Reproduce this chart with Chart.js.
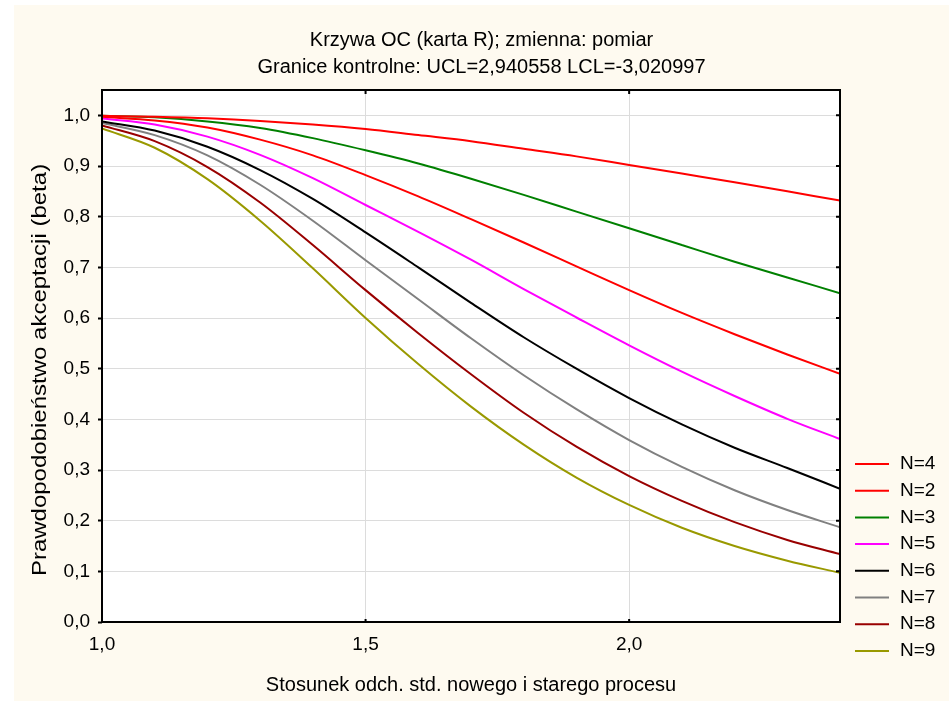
<!DOCTYPE html>
<html><head><meta charset="utf-8">
<script src="https://cdn.jsdelivr.net/npm/chart.js@4.4.0/dist/chart.umd.min.js"></script>
<style>html,body{margin:0;padding:0;background:#fff;} #wrap{width:949px;height:701px;position:relative;}</style>
</head><body><div id="wrap"><canvas id="c"></canvas></div>
<script>
const titleLines = ['Krzywa OC (karta R); zmienna: pomiar', 'Granice kontrolne: UCL=2,940558 LCL=-3,020997'];
const xTitle = 'Stosunek odch. std. nowego i starego procesu';
const yTitle = 'Prawdopodobieństwo akceptacji (beta)';
const xValues = [1.0,1.1,1.2,1.3,1.4,1.5,1.6,1.7,1.8,1.9,2.0,2.1,2.2,2.3,2.4];
const xTicks = [1.0, 1.5, 2.0];
const yTicks = [0.0,0.1,0.2,0.3,0.4,0.5,0.6,0.7,0.8,0.9,1.0];
const seriesLabels = ['N=4','N=2','N=3','N=5','N=6','N=7','N=8','N=9'];
const seriesColors = ['#ff0000','#ff0000','#008000','#ff00ff','#000000','#808080','#990000','#999900'];
const n4 = [0.997,0.990,0.976,0.952,0.921,0.882,0.840,0.795,0.749,0.702,0.655,0.610,0.568,0.528,0.490];
const n2 = [0.999,0.997,0.994,0.989,0.982,0.973,0.961,0.949,0.934,0.919,0.902,0.885,0.868,0.850,0.832];
const n3 = [0.999,0.996,0.988,0.975,0.955,0.931,0.905,0.875,0.843,0.810,0.777,0.744,0.711,0.680,0.649];
const n5 = [0.994,0.982,0.958,0.922,0.876,0.823,0.770,0.715,0.657,0.601,0.546,0.494,0.446,0.401,0.361];
const n6 = [0.988,0.970,0.938,0.892,0.835,0.769,0.700,0.630,0.562,0.500,0.442,0.390,0.344,0.304,0.263];
const n7 = [0.985,0.961,0.921,0.863,0.792,0.714,0.637,0.560,0.487,0.420,0.359,0.306,0.260,0.221,0.187];
const n8 = [0.980,0.949,0.898,0.828,0.744,0.655,0.570,0.489,0.413,0.346,0.288,0.239,0.197,0.162,0.134];
const n9 = [0.974,0.936,0.874,0.792,0.698,0.600,0.509,0.425,0.350,0.285,0.231,0.186,0.150,0.121,0.097];
const seriesValues = [n4,n2,n3,n5,n6,n7,n8,n9];

const FONT = "'Liberation Sans', Arial, sans-serif";
const fmt = v => Number(v).toFixed(1).replace('.', ',');

const datasets = seriesValues.map((vals, i) => ({
  label: seriesLabels[i],
  data: vals.map((y, k) => ({x: xValues[k], y})),
  borderColor: seriesColors[i],
  backgroundColor: seriesColors[i],
  borderWidth: 2,
  pointRadius: 0,
  fill: false,
  cubicInterpolationMode: 'monotone',
  yAxisID: 'y'
}));

const decor = {
  id: 'decor',
  beforeDraw(chart) {
    const {ctx, chartArea: a} = chart;
    ctx.save();
    ctx.fillStyle = '#fefaf0';
    ctx.fillRect(14, 5, chart.width - 14, chart.height - 5);
    ctx.fillStyle = '#ffffff';
    ctx.fillRect(a.left, a.top, a.right - a.left, a.bottom - a.top);
    ctx.restore();
  },
  afterDatasetsDraw(chart) {
    const {ctx, chartArea: a, scales} = chart;
    ctx.save();
    ctx.strokeStyle = '#000';
    ctx.lineWidth = 2;
    ctx.strokeRect(a.left, a.top, a.right - a.left, a.bottom - a.top);
    ctx.beginPath();
    yTicks.forEach(v => {
      const py = scales.y.getPixelForValue(v);
      ctx.moveTo(a.right, py); ctx.lineTo(a.right - 4, py);
    });
    xTicks.forEach(v => {
      const px = scales.x.getPixelForValue(v);
      ctx.moveTo(px, a.top); ctx.lineTo(px, a.top + 4);
      ctx.moveTo(px, a.bottom); ctx.lineTo(px, a.bottom - 3);
    });
    ctx.stroke();
    // y-axis title (drawn as text, slightly widened along its direction)
    ctx.save();
    ctx.translate(40, 370);
    ctx.rotate(-Math.PI / 2);
    ctx.scale(1.2, 1);
    ctx.font = '20px ' + FONT;
    ctx.fillStyle = '#000';
    ctx.textAlign = 'center';
    ctx.textBaseline = 'middle';
    ctx.fillText(yTitle, 0, 0);
    ctx.restore();
    // legend
    ctx.font = '19px ' + FONT;
    ctx.textBaseline = 'middle';
    ctx.textAlign = 'left';
    chart.data.datasets.forEach((ds, i) => {
      const y = 464 + i * 26.7;
      ctx.strokeStyle = ds.borderColor;
      ctx.lineWidth = 2;
      ctx.beginPath(); ctx.moveTo(855, y); ctx.lineTo(889, y); ctx.stroke();
      ctx.fillStyle = '#000';
      ctx.fillText(ds.label, 900, y);
    });
    ctx.restore();
  }
};

new Chart(document.getElementById('c'), {
  type: 'line',
  data: {datasets},
  plugins: [decor],
  options: {
    responsive: true,
    maintainAspectRatio: false,
    animation: false,
    events: [],
    layout: {padding: {left: 14, top: 5, right: 0, bottom: 0}},
    plugins: {
      legend: {display: false},
      tooltip: {enabled: false},
      title: {
        display: true,
        text: titleLines,
        color: '#000',
        font: {family: FONT, size: 20, weight: 'normal', lineHeight: '27px'},
        padding: {top: 21.5, bottom: 9.5}
      }
    },
    scales: {
      x: {
        type: 'linear', min: 1.0, max: 2.4,
        afterBuildTicks: s => { s.ticks = xTicks.map(v => ({value: v})); },
        afterFit: s => { s.height = 79; },
        grid: {color: '#dcdcdc', lineWidth: 1, drawTicks: false},
        border: {display: false},
        ticks: {color: '#000', font: {family: FONT, size: 19}, padding: 11, callback: v => fmt(v), maxRotation: 0},
        title: {display: true, text: xTitle, color: '#000', font: {family: FONT, size: 20}, padding: {top: 0, bottom: 4}}
      },
      y: {
        type: 'linear', min: 0, max: 1.05, position: 'left',
        afterBuildTicks: s => { s.ticks = yTicks.map(v => ({value: v})); },
        afterFit: s => { s.width = 88; },
        grid: {color: '#dcdcdc', lineWidth: 1, drawTicks: true, tickLength: 4, tickColor: '#000', tickWidth: 2},
        border: {display: false},
        ticks: {color: '#000', font: {family: FONT, size: 19}, padding: 8, callback: v => fmt(v)},
        title: {display: false, text: yTitle}
      },
      yr: {
        type: 'linear', min: 0, max: 1.05, position: 'right',
        afterFit: s => { s.width = 109; },
        grid: {display: false, drawOnChartArea: false},
        border: {display: false},
        ticks: {display: false}
      }
    }
  }
});
</script>
</body></html>
